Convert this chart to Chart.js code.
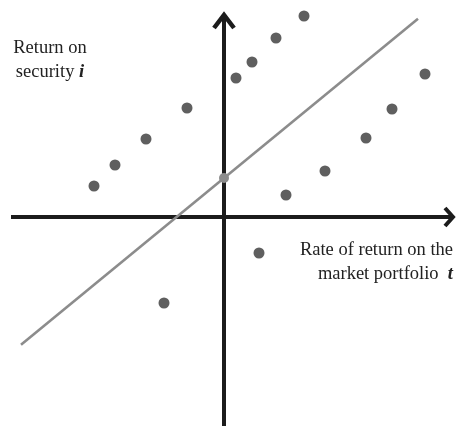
<!DOCTYPE html>
<html>
<head>
<meta charset="utf-8">
<script src="https://cdn.jsdelivr.net/npm/chart.js@4"></script>
<style>
  html, body { margin: 0; padding: 0; background: #ffffff; }
  #wrap { position: relative; width: 456px; height: 426px; overflow: hidden; }
  canvas { position: absolute; left: 0; top: 0; }
  .lbl { position: absolute; font-family: "Liberation Serif", "Times New Roman", serif; font-size: 18.5px; line-height: 24px; color: #222; white-space: nowrap; }
  .lbl b { font-style: italic; }
</style>
</head>
<body>
<div id="wrap">
  <canvas id="c" width="456" height="426"></canvas>
  <div class="lbl" id="ylab" style="left:0; width:100px; top:35px; text-align:center;">Return on<br>security <b>i</b></div>
  <div class="lbl" id="xlab" style="right:3px; top:237px; text-align:right;">Rate of return on the<br>market portfolio&nbsp;&nbsp;<b>t</b></div>
</div>
<script>
// Market return (x) and security return (y) observations
const marketReturns   = [-6.5, -5.45, -3.9, -1.85, 0.6, 1.4, 2.6, 4.0, -3.0, 1.75, 3.1, 5.05, 7.1, 8.4, 10.05];
const securityReturns = [1.55, 2.6, 3.9, 5.45, 6.95, 7.75, 8.95, 10.05, -4.3, -1.8, 1.1, 2.3, 3.95, 5.4, 7.15];
// Fitted characteristic line: intercept (alpha) and slope (beta)
const alpha = 1.95;
const beta = 0.821;
const lineX = [-10.15, 9.7];
// Visible range of the axes
const xRange = [-11.2, 11.6];
const yRange = [-10.45, 10.85];

const points = marketReturns.map((x, i) => ({ x: x, y: securityReturns[i] }));
const fitLine = lineX.map(x => ({ x: x, y: alpha + beta * x }));

const axesPlugin = {
  id: 'axesArrows',
  beforeDatasetsDraw(chart) {
    const { ctx, scales } = chart;
    const xs = scales.x, ys = scales.y;
    const x0 = xs.getPixelForValue(0);
    const y0 = ys.getPixelForValue(0);
    ctx.save();
    ctx.strokeStyle = '#1c1c1c';
    ctx.lineWidth = 4;
    ctx.lineCap = 'butt';
    // horizontal axis
    const left = xs.getPixelForValue(-10.65);
    const right = xs.getPixelForValue(11.5);
    ctx.beginPath();
    ctx.moveTo(left, y0);
    ctx.lineTo(right - 1, y0);
    ctx.stroke();
    // vertical axis
    const top = ys.getPixelForValue(10.2);
    const bottom = ys.getPixelForValue(yRange[0]);
    ctx.beginPath();
    ctx.moveTo(x0, bottom);
    ctx.lineTo(x0, top + 1);
    ctx.stroke();
    // arrowheads
    ctx.lineJoin = 'miter';
    ctx.lineWidth = 4.5;
    ctx.beginPath();
    ctx.moveTo(x0 - 10, top + 15);
    ctx.lineTo(x0, top + 2);
    ctx.lineTo(x0 + 10, top + 15);
    ctx.stroke();
    ctx.lineWidth = 4;
    ctx.beginPath();
    ctx.moveTo(right - 9, y0 - 9);
    ctx.lineTo(right - 1, y0);
    ctx.lineTo(right - 9, y0 + 9);
    ctx.stroke();
    ctx.restore();
  }
};

new Chart(document.getElementById('c'), {
  type: 'scatter',
  data: {
    datasets: [
      {
        label: 'Observations',
        data: points,
        pointRadius: 5.5,
        pointBackgroundColor: '#5f5f5f',
        pointBorderColor: '#5f5f5f',
        pointBorderWidth: 0,
        showLine: false,
        clip: false
      },
      {
        label: 'Intercept',
        data: [{ x: 0, y: alpha }],
        pointRadius: 5,
        pointBackgroundColor: '#8c8c8c',
        pointBorderWidth: 0,
        showLine: false,
        clip: false
      },
      {
        label: 'Characteristic line',
        data: fitLine,
        showLine: true,
        borderColor: '#8c8c8c',
        borderWidth: 2.6,
        pointRadius: 0,
        fill: false,
        clip: false
      }
    ]
  },
  options: {
    responsive: false,
    animation: false,
    events: [],
    layout: { padding: 0, autoPadding: false },
    plugins: { legend: { display: false }, tooltip: { enabled: false }, title: { display: false } },
    scales: {
      x: { type: 'linear', min: xRange[0], max: xRange[1], display: false },
      y: { type: 'linear', min: yRange[0], max: yRange[1], display: false }
    }
  },
  plugins: [axesPlugin]
});
</script>
</body>
</html>
